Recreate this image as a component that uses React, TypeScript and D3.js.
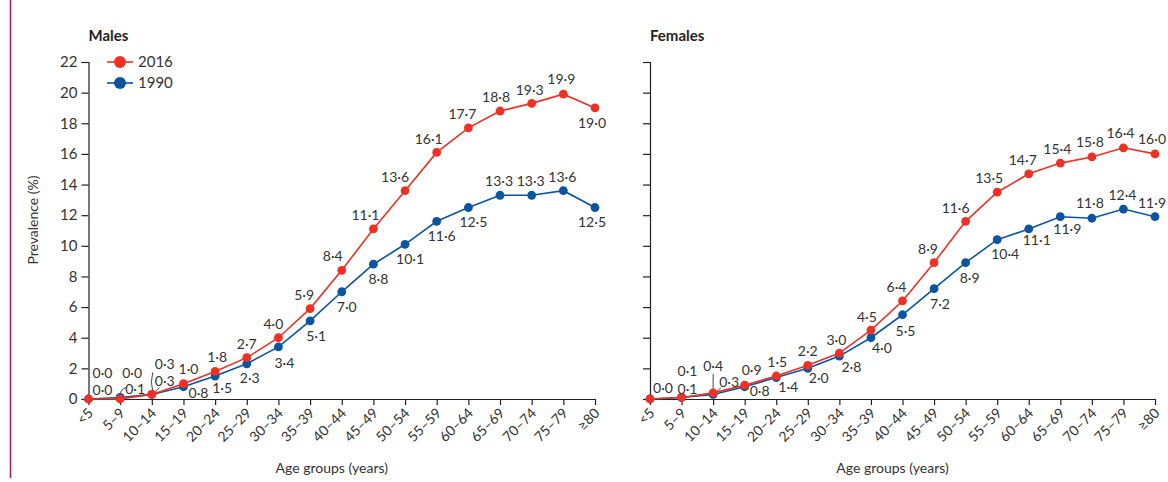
import { useEffect, useRef } from "react";
import * as d3 from "d3";

// categories and values
const ageGroups = ["<5", "5–9", "10–14", "15–19", "20–24", "25–29", "30–34", "35–39", "40–44", "45–49", "50–54", "55–59", "60–64", "65–69", "70–74", "75–79", "≥80"];
const males2016 = [0.0, 0.0, 0.3, 1.0, 1.8, 2.7, 4.0, 5.9, 8.4, 11.1, 13.6, 16.1, 17.7, 18.8, 19.3, 19.9, 19.0];
const males1990 = [0.0, 0.1, 0.3, 0.8, 1.5, 2.3, 3.4, 5.1, 7.0, 8.8, 10.1, 11.6, 12.5, 13.3, 13.3, 13.6, 12.5];
const females2016 = [0.0, 0.1, 0.4, 0.9, 1.5, 2.2, 3.0, 4.5, 6.4, 8.9, 11.6, 13.5, 14.7, 15.4, 15.8, 16.4, 16.0];
const females1990 = [0.0, 0.1, 0.3, 0.8, 1.4, 2.0, 2.8, 4.0, 5.5, 7.2, 8.9, 10.4, 11.1, 11.9, 11.8, 12.4, 11.9];
const yTicks = [0, 2, 4, 6, 8, 10, 12, 14, 16, 18, 20, 22];
const seriesNames = ["2016", "1990"];

// label placement: offset of the label centre from its point (null = no label)
type Off = [number, number] | null;
const males2016Off: Off[] = [[14, -26], [12, -26], [13, -30], [5, -15], [2, -14], [0, -14], [-5, -14], [-6, -14], [-9, -14], [-8, -14], [-10, -14], [-8, -13], [-6, -14], [-4, -14], [-2, -13], [-2, -15], [-3, 15]];
const males1990Off: Off[] = [[14, -9], [15, -8], [13, -13], [15, 6], [7, 12], [3, 14], [6, 16], [6, 15], [5, 15], [5, 15], [5, 15], [5, 15], [5, 15], [-1, -14], [-1, -14], [-1, -14], [-3, 15]];
const females2016Off: Off[] = [[13, -11], [6, -26], [0, -27], [7, -15], [1, -14], [0, -14], [-3, -13], [-4, -13], [-6, -14], [-6, -14], [-10, -13], [-8, -14], [-6, -14], [-3, -14], [-2, -15], [-3, -15], [-3, -15]];
const females1990Off: Off[] = [null, [6, -8], [16, -12], [15, 4], [12, 10], [11, 10], [12, 11], [11, 10], [3, 16], [6, 15], [4, 15], [8, 14], [8, 11], [7, 12], [-2, -15], [-1, -14], [-3, -14]];

const RED = "#ee3124";
const BLUE = "#0b55a0";
const INK = "#231f20";
const TXT = "#333";
const FONT = "Lato, 'Open Sans', sans-serif";

const fmt = (v: number) => v.toFixed(1).replace(".", "·");

export default function App() {
  const ref = useRef<SVGSVGElement>(null);

  useEffect(() => {
    const svg = d3.select(ref.current);
    svg.selectAll("*").remove();

    const y = d3.scaleLinear().domain([0, 22]).range([399, 62]);

    const panels = [
      { title: "Males", x0: 88.5, x1: 595, s2016: males2016, s1990: males1990, o2016: males2016Off, o1990: males1990Off, first: true },
      { title: "Females", x0: 650, x1: 1155, s2016: females2016, s1990: females1990, o2016: females2016Off, o1990: females1990Off, first: false },
    ];

    // magenta rule at left edge
    svg.append("line").attr("x1", 10.5).attr("x2", 10.5).attr("y1", 0).attr("y2", 478)
      .attr("stroke", "#c4134f").attr("stroke-width", 1.5);

    panels.forEach((p) => {
      const x = d3.scalePoint<string>().domain(ageGroups).range([p.x0, p.x1]);
      const g = svg.append("g");

      g.append("text").attr("x", p.x0).attr("y", 41).attr("font-weight", 700)
        .attr("font-size", 15).attr("fill", INK).text(p.title);

      const yAxis = g.append("g").attr("transform", `translate(${p.x0},0)`)
        .call(d3.axisLeft(y).tickValues(yTicks).tickSize(7).tickSizeOuter(7).tickPadding(4)
          .tickFormat((d) => (p.first ? String(d) : "")));
      yAxis.selectAll("text").attr("font-size", 15).attr("font-family", FONT).attr("fill", TXT);
      yAxis.selectAll("line,path").attr("stroke", INK).attr("stroke-width", 1.2);

      const xAxis = g.append("g").attr("transform", "translate(0,399)")
        .call(d3.axisBottom(x).tickSize(6).tickSizeOuter(0));
      xAxis.selectAll("text").attr("x", 0).attr("y", 0).attr("dy", 0)
        .attr("text-anchor", "end").attr("transform", "translate(5,15) rotate(-45)")
        .attr("font-size", 14).attr("font-family", FONT).attr("fill", TXT);
      xAxis.selectAll("line,path").attr("stroke", INK).attr("stroke-width", 1.2);

      g.append("text").attr("x", (p.x0 + p.x1) / 2 - 10).attr("y", 468).attr("dy", "0.35em").attr("text-anchor", "middle")
        .attr("font-size", 14).attr("font-family", FONT).attr("fill", TXT).text("Age groups (years)");

      if (p.first) {
        g.append("text").attr("transform", "translate(33,220) rotate(-90)").attr("dy", "0.35em").attr("text-anchor", "middle")
          .attr("font-size", 14).attr("font-family", FONT).attr("fill", TXT).text("Prevalence (%)");
      }

      const line = d3.line<number>().x((_, i) => x(ageGroups[i])!).y((d) => y(d));

      const series = [
        { vals: p.s1990, offs: p.o1990, color: BLUE },
        { vals: p.s2016, offs: p.o2016, color: RED },
      ];

      // leader lines for the crowded low-age labels
      const px = (i: number) => x(ageGroups[i])!;
      const leaders: string[] = p.first
        ? [
            `M${px(1)},${y(p.s1990[1]) - 2} Q${px(1)},${y(p.s1990[1]) - 8} ${px(1) + 6},${y(p.s1990[1]) - 10}`,
            `M${px(2) + 1},${y(p.s2016[2]) - 3} Q${px(2) - 2},${y(p.s2016[2]) - 12} ${px(2) + 1},${y(p.s2016[2]) - 22}`,
            `M${px(2) + 2},${y(p.s1990[2]) - 1} L${px(2) + 8},${y(p.s1990[2]) - 7}`,
          ]
        : [
            `M${px(2)},${y(p.s2016[2]) - 3} L${px(2)},${y(p.s2016[2]) - 19}`,
            `M${px(2) + 2},${y(p.s1990[2]) - 1} L${px(2) + 8},${y(p.s1990[2]) - 7}`,
          ];
      g.selectAll(".leader").data(leaders).enter().append("path").attr("class", "leader")
        .attr("d", (d) => d).attr("fill", "none").attr("stroke", TXT).attr("stroke-width", 0.9);

      series.forEach((s) => {
        g.append("path").datum(s.vals).attr("d", line).attr("fill", "none")
          .attr("stroke", s.color).attr("stroke-width", 1.6);
        g.selectAll(null).data(s.vals).enter().append("circle")
          .attr("cx", (_, i) => x(ageGroups[i])!).attr("cy", (d) => y(d)).attr("r", 4.4)
          .attr("fill", s.color);
      });

      series.forEach((s) => {
        g.selectAll(null).data(s.vals.map((v, i) => ({ v, i, o: s.offs[i] })).filter((d) => d.o))
          .enter().append("text")
          .attr("x", (d) => x(ageGroups[d.i])! + d.o![0])
          .attr("y", (d) => y(d.v) + d.o![1])
          .attr("dy", "0.35em").attr("text-anchor", "middle")
          .attr("font-size", 14).attr("font-family", FONT).attr("fill", TXT)
          .text((d) => fmt(d.v));
      });

      if (p.first) {
        const leg = g.append("g");
        [RED, BLUE].forEach((c, i) => {
          const ly = 62 + i * 21;
          leg.append("line").attr("x1", 107).attr("x2", 133).attr("y1", ly).attr("y2", ly)
            .attr("stroke", c).attr("stroke-width", 1.6);
          leg.append("circle").attr("cx", 120).attr("cy", ly).attr("r", 6).attr("fill", c);
          leg.append("text").attr("x", 138).attr("y", ly).attr("dy", "0.36em")
            .attr("font-size", 15).attr("font-family", FONT).attr("fill", TXT).text(seriesNames[i]);
        });
      }
    });
  }, []);

  return (
    <svg ref={ref} width={1168} height={482}
      style={{ position: "absolute", left: 0, top: 0, background: "#fff", fontFamily: FONT }} />
  );
}
